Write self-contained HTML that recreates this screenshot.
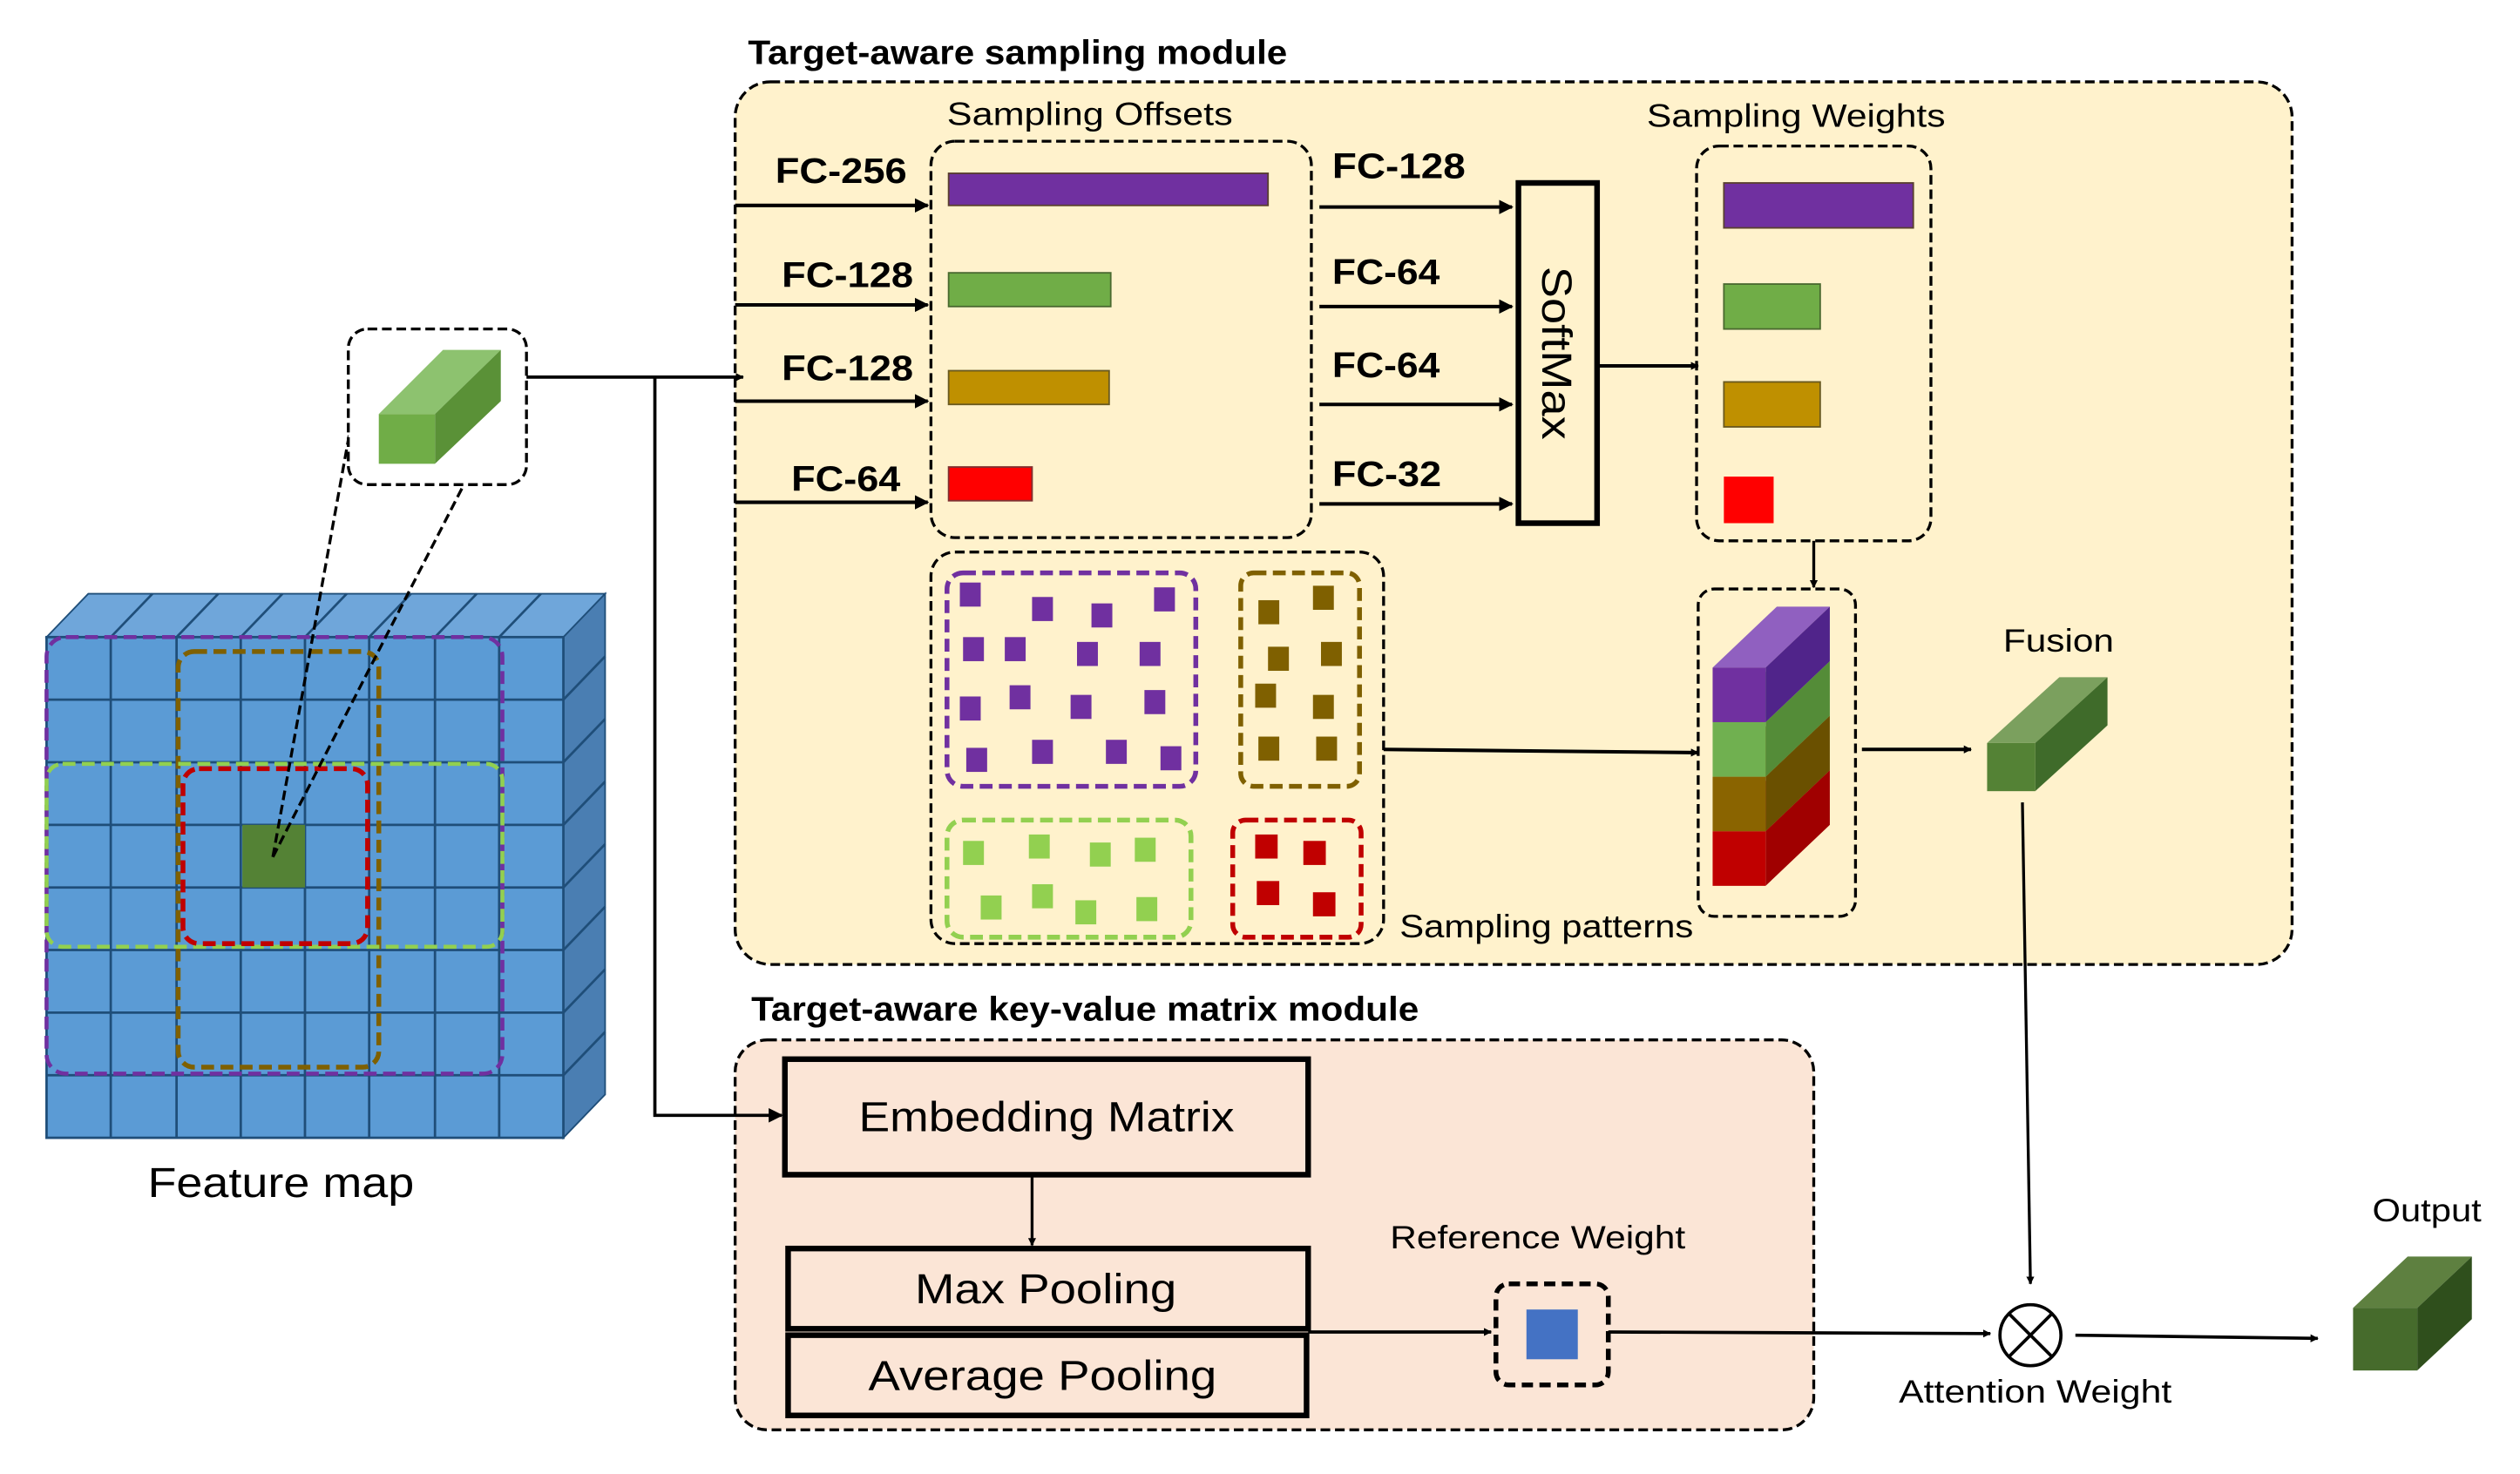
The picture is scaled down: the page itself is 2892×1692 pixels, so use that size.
<!DOCTYPE html>
<html><head><meta charset="utf-8"><style>
html,body{margin:0;padding:0;background:#fff;}
svg{display:block;}
text{font-family:"Liberation Sans",sans-serif;fill:#000;}
.b{font-weight:bold;}
</style></head><body>
<svg width="2892" height="1692" viewBox="0 0 1570 918.5" preserveAspectRatio="none" xmlns="http://www.w3.org/2000/svg">
<defs>
<marker id="ar" viewBox="0 0 10 10" refX="9" refY="5" markerWidth="5" markerHeight="5" orient="auto" markerUnits="userSpaceOnUse"><path d="M0,0L10,5L0,10z" fill="#000"/></marker>
<marker id="ar2" viewBox="0 0 10 10" refX="9" refY="5" markerWidth="9" markerHeight="9" orient="auto" markerUnits="userSpaceOnUse"><path d="M0,0L10,5L0,10z" fill="#000"/></marker>
</defs>

<!-- Feature map -->
<g>
<polygon points="29,397 55,370 377,370 351,397" fill="#6FA6DA" stroke="#1F4E79" stroke-width="1"/>
<polygon points="351,397 377,370 377,682 351,709" fill="#4A7EB2" stroke="#1F4E79" stroke-width="1"/>
<rect x="29" y="397" width="322" height="312" fill="#5B9BD5" stroke="#1F4E79" stroke-width="1.5"/>
<g stroke="#1F4E79" stroke-width="1.5">
<line x1="69" y1="397" x2="69" y2="709"/><line x1="110" y1="397" x2="110" y2="709"/><line x1="150" y1="397" x2="150" y2="709"/><line x1="190" y1="397" x2="190" y2="709"/><line x1="230" y1="397" x2="230" y2="709"/><line x1="271" y1="397" x2="271" y2="709"/><line x1="311" y1="397" x2="311" y2="709"/>
<line x1="29" y1="436" x2="351" y2="436"/><line x1="29" y1="475" x2="351" y2="475"/><line x1="29" y1="514" x2="351" y2="514"/><line x1="29" y1="553" x2="351" y2="553"/><line x1="29" y1="592" x2="351" y2="592"/><line x1="29" y1="631" x2="351" y2="631"/><line x1="29" y1="670" x2="351" y2="670"/>
<line x1="69" y1="397" x2="95" y2="370"/><line x1="110" y1="397" x2="136" y2="370"/><line x1="150" y1="397" x2="176" y2="370"/><line x1="190" y1="397" x2="216" y2="370"/><line x1="230" y1="397" x2="256" y2="370"/><line x1="271" y1="397" x2="297" y2="370"/><line x1="311" y1="397" x2="337" y2="370"/>
<line x1="351" y1="436" x2="377" y2="409"/><line x1="351" y1="475" x2="377" y2="448"/><line x1="351" y1="514" x2="377" y2="487"/><line x1="351" y1="553" x2="377" y2="526"/><line x1="351" y1="592" x2="377" y2="565"/><line x1="351" y1="631" x2="377" y2="604"/><line x1="351" y1="670" x2="377" y2="643"/>
</g>
<rect x="151" y="514" width="39" height="39" fill="#548235"/>
<rect x="29" y="397" width="284" height="272" rx="12" fill="none" stroke="#7030A0" stroke-width="2.5" stroke-dasharray="8,4"/>
<rect x="111" y="406" width="125" height="259" rx="10" fill="none" stroke="#7F6000" stroke-width="3" stroke-dasharray="8,4"/>
<rect x="29" y="476" width="284" height="114" rx="10" fill="none" stroke="#92D050" stroke-width="2.5" stroke-dasharray="8,4"/>
<rect x="114" y="479" width="115" height="109" rx="10" fill="none" stroke="#C00000" stroke-width="3" stroke-dasharray="8,4"/>
<line x1="170" y1="534" x2="221" y2="252" stroke="#000" stroke-width="1.8" stroke-dasharray="6,3"/>
<line x1="170" y1="534" x2="289" y2="302" stroke="#000" stroke-width="1.8" stroke-dasharray="6,3"/>
<text x="92" y="746" font-size="26" textLength="166" lengthAdjust="spacingAndGlyphs">Feature map</text>
</g>

<!-- small cube box -->
<rect x="217" y="205" width="111" height="97" rx="12" fill="#fff" stroke="#000" stroke-width="1.8" stroke-dasharray="6,3"/>
<polygon points="236,258 276,218 312,218 271,258" fill="#8DC26F"/>
<polygon points="271,258 312,218 312,250 271,289" fill="#5A9137"/>
<rect x="236" y="258" width="35" height="31" fill="#70AD47"/>

<!-- Top panel -->
<text x="466" y="40" font-size="21" class="b" textLength="336" lengthAdjust="spacingAndGlyphs">Target-aware sampling module</text>
<rect x="458" y="51" width="970" height="550" rx="22" fill="#FFF2CC" stroke="#000" stroke-width="1.8" stroke-dasharray="6,3"/>

<!-- bottom panel -->
<text x="468" y="636" font-size="21" class="b" textLength="416" lengthAdjust="spacingAndGlyphs">Target-aware key-value matrix module</text>
<rect x="458" y="648" width="672" height="243" rx="20" fill="#FBE5D6" stroke="#000" stroke-width="1.8" stroke-dasharray="6,3"/>

<!-- connectors from cube -->
<line x1="328" y1="235" x2="463" y2="235" stroke="#000" stroke-width="2" marker-end="url(#ar)"/>
<polyline points="408,235 408,695 487,695" fill="none" stroke="#000" stroke-width="2" marker-end="url(#ar2)"/>

<text x="590" y="78" font-size="20" textLength="178" lengthAdjust="spacingAndGlyphs">Sampling Offsets</text>
<rect x="580" y="88" width="237" height="247" rx="15" fill="none" stroke="#000" stroke-width="1.8" stroke-dasharray="6,3"/>
<rect x="591" y="108" width="199" height="20" fill="#7030A0" stroke="#5a4030" stroke-width="1"/>
<rect x="591" y="170" width="101" height="21" fill="#70AD47" stroke="#4a6a30" stroke-width="1"/>
<rect x="591" y="231" width="100" height="21" fill="#BF9000" stroke="#6a5a20" stroke-width="1"/>
<rect x="591" y="291" width="52" height="21" fill="#FF0000" stroke="#803030" stroke-width="1"/>

<g stroke="#000" stroke-width="2.2">
<line x1="458" y1="128" x2="578" y2="128" marker-end="url(#ar2)"/>
<line x1="458" y1="190" x2="578" y2="190" marker-end="url(#ar2)"/>
<line x1="458" y1="250" x2="578" y2="250" marker-end="url(#ar2)"/>
<line x1="458" y1="313" x2="578" y2="313" marker-end="url(#ar2)"/>
<line x1="822" y1="129" x2="942" y2="129" marker-end="url(#ar2)"/>
<line x1="822" y1="191" x2="942" y2="191" marker-end="url(#ar2)"/>
<line x1="822" y1="252" x2="942" y2="252" marker-end="url(#ar2)"/>
<line x1="822" y1="314" x2="942" y2="314" marker-end="url(#ar2)"/>
<line x1="995" y1="228" x2="1058" y2="228" marker-end="url(#ar)"/>
<line x1="1130" y1="337" x2="1130" y2="366" stroke-width="1.8" marker-end="url(#ar)"/>
<line x1="862" y1="467" x2="1058" y2="469" marker-end="url(#ar)"/>
<line x1="1160" y1="467" x2="1228" y2="467" marker-end="url(#ar)"/>
</g>
<g font-size="22" class="b">
<text x="483" y="114" textLength="82" lengthAdjust="spacingAndGlyphs">FC-256</text>
<text x="487" y="179" textLength="82" lengthAdjust="spacingAndGlyphs">FC-128</text>
<text x="487" y="237" textLength="82" lengthAdjust="spacingAndGlyphs">FC-128</text>
<text x="493" y="306" textLength="68" lengthAdjust="spacingAndGlyphs">FC-64</text>
<text x="830" y="111" textLength="83" lengthAdjust="spacingAndGlyphs">FC-128</text>
<text x="830" y="177" textLength="67" lengthAdjust="spacingAndGlyphs">FC-64</text>
<text x="830" y="235" textLength="67" lengthAdjust="spacingAndGlyphs">FC-64</text>
<text x="830" y="303" textLength="68" lengthAdjust="spacingAndGlyphs">FC-32</text>
</g>

<rect x="946" y="114" width="49" height="212" fill="none" stroke="#000" stroke-width="3.5"/>
<text transform="translate(961,220) rotate(90)" font-size="26" text-anchor="middle" textLength="108" lengthAdjust="spacingAndGlyphs">SoftMax</text>

<text x="1026" y="79" font-size="20" textLength="186" lengthAdjust="spacingAndGlyphs">Sampling Weights</text>
<rect x="1057" y="91" width="146" height="246" rx="14" fill="none" stroke="#000" stroke-width="1.8" stroke-dasharray="6,3"/>
<rect x="1074" y="114" width="118" height="28" fill="#7030A0" stroke="#5a4030" stroke-width="1"/>
<rect x="1074" y="177" width="60" height="28" fill="#70AD47" stroke="#4a6a30" stroke-width="1"/>
<rect x="1074" y="238" width="60" height="28" fill="#BF9000" stroke="#6a5a20" stroke-width="1"/>
<rect x="1074" y="297" width="31" height="29" fill="#FF0000"/>

<!-- sampling patterns -->
<rect x="580" y="344" width="282" height="244" rx="15" fill="none" stroke="#000" stroke-width="1.8" stroke-dasharray="6,3"/>
<rect x="590" y="357" width="155" height="133" rx="10" fill="none" stroke="#7030A0" stroke-width="3" stroke-dasharray="8,4"/>
<rect x="773" y="357" width="74" height="133" rx="8" fill="none" stroke="#7F6000" stroke-width="3" stroke-dasharray="8,4"/>
<rect x="590" y="511" width="152" height="73" rx="10" fill="none" stroke="#92D050" stroke-width="3" stroke-dasharray="8,4"/>
<rect x="768" y="511" width="80" height="73" rx="8" fill="none" stroke="#C00000" stroke-width="3" stroke-dasharray="8,4"/>
<g fill="#7030A0">
<rect x="598" y="363" width="13" height="15"/><rect x="643" y="372" width="13" height="15"/><rect x="680" y="376" width="13" height="15"/><rect x="719" y="366" width="13" height="15"/>
<rect x="600" y="397" width="13" height="15"/><rect x="626" y="397" width="13" height="15"/><rect x="671" y="400" width="13" height="15"/><rect x="710" y="400" width="13" height="15"/>
<rect x="598" y="434" width="13" height="15"/><rect x="629" y="427" width="13" height="15"/><rect x="667" y="433" width="13" height="15"/><rect x="713" y="430" width="13" height="15"/>
<rect x="602" y="466" width="13" height="15"/><rect x="643" y="461" width="13" height="15"/><rect x="689" y="461" width="13" height="15"/><rect x="723" y="465" width="13" height="15"/>
</g>
<g fill="#7F6000">
<rect x="784" y="374" width="13" height="15"/><rect x="818" y="365" width="13" height="15"/><rect x="790" y="403" width="13" height="15"/><rect x="823" y="400" width="13" height="15"/>
<rect x="782" y="426" width="13" height="15"/><rect x="818" y="433" width="13" height="15"/><rect x="784" y="459" width="13" height="15"/><rect x="820" y="459" width="13" height="15"/>
</g>
<g fill="#92D050">
<rect x="600" y="524" width="13" height="15"/><rect x="641" y="520" width="13" height="15"/><rect x="679" y="525" width="13" height="15"/><rect x="707" y="522" width="13" height="15"/>
<rect x="611" y="558" width="13" height="15"/><rect x="643" y="551" width="13" height="15"/><rect x="670" y="561" width="13" height="15"/><rect x="708" y="559" width="13" height="15"/>
</g>
<g fill="#C00000">
<rect x="782" y="520" width="14" height="15"/><rect x="812" y="524" width="14" height="15"/><rect x="783" y="549" width="14" height="15"/><rect x="818" y="556" width="14" height="15"/>
</g>
<text x="872" y="584" font-size="20" textLength="183" lengthAdjust="spacingAndGlyphs">Sampling patterns</text>

<!-- stacked cubes -->
<rect x="1058" y="367" width="98" height="204" rx="10" fill="none" stroke="#000" stroke-width="1.8" stroke-dasharray="6,3"/>
<g>
<polygon points="1067,518 1107,480 1140,480 1100,518" fill="#E04040"/>
<polygon points="1100,518 1140,480 1140,514 1100,552" fill="#A00000"/>
<rect x="1067" y="518" width="33" height="34" fill="#C00000"/>
<polygon points="1067,484 1107,446 1140,446 1100,484" fill="#A08030"/>
<polygon points="1100,484 1140,446 1140,480 1100,518" fill="#6A5000"/>
<rect x="1067" y="484" width="33" height="34" fill="#8A6400"/>
<polygon points="1067,450 1107,412 1140,412 1100,450" fill="#90C878"/>
<polygon points="1100,450 1140,412 1140,446 1100,484" fill="#548C38"/>
<rect x="1067" y="450" width="33" height="34" fill="#70B050"/>
<polygon points="1067,416 1107,378 1140,378 1100,416" fill="#9060C0"/>
<polygon points="1100,416 1140,378 1140,412 1100,450" fill="#50248A"/>
<rect x="1067" y="416" width="33" height="34" fill="#7030A0"/>
</g>

<text x="1248" y="406" font-size="20" textLength="69" lengthAdjust="spacingAndGlyphs">Fusion</text>
<polygon points="1238,463 1283,422 1313,422 1268,463" fill="#7BA05E"/>
<polygon points="1268,463 1313,422 1313,452 1268,493" fill="#3F6B2A"/>
<rect x="1238" y="463" width="30" height="30" fill="#548235"/>
<line x1="1260" y1="500" x2="1265" y2="800" stroke="#000" stroke-width="1.8" marker-end="url(#ar)"/>

<rect x="489" y="660" width="326" height="72" fill="none" stroke="#000" stroke-width="3.5"/>
<text x="535" y="705" font-size="26" textLength="234" lengthAdjust="spacingAndGlyphs">Embedding Matrix</text>
<line x1="643" y1="732" x2="643" y2="776" stroke="#000" stroke-width="1.8" marker-end="url(#ar)"/>
<rect x="491" y="778" width="324" height="50" fill="none" stroke="#000" stroke-width="3.5"/>
<rect x="491" y="832" width="323" height="50" fill="none" stroke="#000" stroke-width="3.5"/>
<text x="570" y="812" font-size="26" textLength="163" lengthAdjust="spacingAndGlyphs">Max Pooling</text>
<text x="541" y="866" font-size="26" textLength="217" lengthAdjust="spacingAndGlyphs">Average Pooling</text>
<line x1="815" y1="830" x2="929" y2="830" stroke="#000" stroke-width="2" marker-end="url(#ar)"/>
<text x="866" y="778" font-size="20" textLength="184" lengthAdjust="spacingAndGlyphs">Reference Weight</text>
<rect x="932" y="800" width="70" height="63" rx="8" fill="none" stroke="#000" stroke-width="3" stroke-dasharray="7,4"/>
<rect x="951" y="816" width="32" height="31" fill="#4472C4"/>
<line x1="1002" y1="830" x2="1240" y2="831" stroke="#000" stroke-width="2" marker-end="url(#ar)"/>

<!-- otimes -->
<circle cx="1265" cy="832" r="19" fill="#fff" stroke="#000" stroke-width="2"/>
<line x1="1252" y1="819" x2="1278" y2="845" stroke="#000" stroke-width="2"/>
<line x1="1278" y1="819" x2="1252" y2="845" stroke="#000" stroke-width="2"/>
<text x="1183" y="874" font-size="20" textLength="170" lengthAdjust="spacingAndGlyphs">Attention Weight</text>
<line x1="1293" y1="832" x2="1444" y2="834" stroke="#000" stroke-width="2" marker-end="url(#ar)"/>

<text x="1478" y="761" font-size="20" textLength="68" lengthAdjust="spacingAndGlyphs">Output</text>
<polygon points="1466,815 1500,783 1540,783 1506,815" fill="#5E8040"/>
<polygon points="1506,815 1540,783 1540,822 1506,854" fill="#2F4F1C"/>
<rect x="1466" y="815" width="40" height="39" fill="#466B2C"/>
</svg>
</body></html>
